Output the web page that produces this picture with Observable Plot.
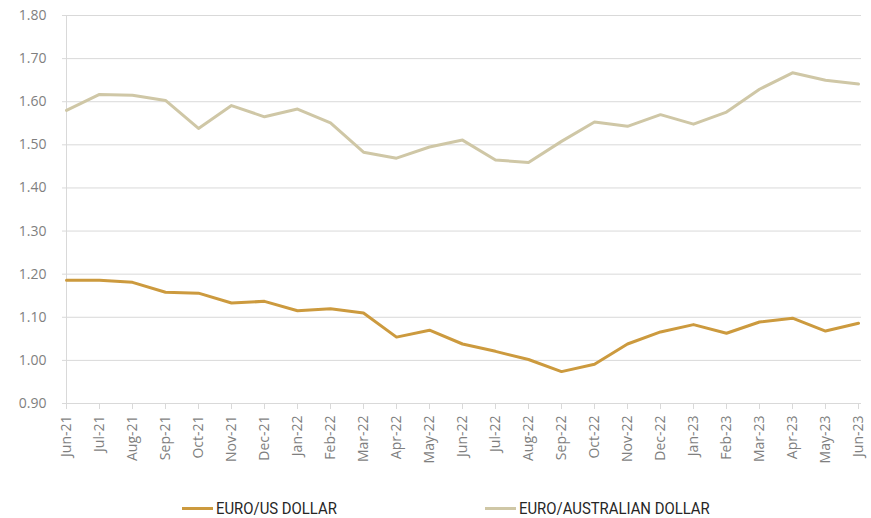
<!DOCTYPE html>
<html>
<head>
<meta charset="utf-8">
<script src="https://cdn.jsdelivr.net/npm/d3@7"></script>
<script src="https://cdn.jsdelivr.net/npm/@observablehq/plot@0.6"></script>
<style>
  body { margin: 0; background: #fff; font-family: "Open Sans", sans-serif; }
  #chart { width: 871px; height: 470px; }
  .legend { position: relative; height: 48px; width: 871px; font-size: 16px; color: #262626; font-family: Roboto, "Open Sans", sans-serif; }
  .item { position: absolute; top: 29px; display: flex; align-items: center; white-space: nowrap; }
  .sw { width: 31px; height: 3px; margin-right: 3px; flex: none; }
  .txt { display: inline-block; transform: scaleX(0.93); transform-origin: left center; }
</style>
</head>
<body>
<div id="chart"></div>
<script>
const months = ["Jun-21","Jul-21","Aug-21","Sep-21","Oct-21","Nov-21","Dec-21","Jan-22","Feb-22","Mar-22","Apr-22","May-22","Jun-22","Jul-22","Aug-22","Sep-22","Oct-22","Nov-22","Dec-22","Jan-23","Feb-23","Mar-23","Apr-23","May-23","Jun-23"];
const eurUsd = [1.186,1.186,1.181,1.158,1.156,1.133,1.137,1.115,1.120,1.110,1.054,1.070,1.038,1.021,1.002,0.974,0.991,1.038,1.066,1.083,1.063,1.089,1.098,1.068,1.086];
const eurAud = [1.580,1.617,1.615,1.603,1.538,1.591,1.565,1.583,1.551,1.483,1.469,1.495,1.511,1.465,1.459,1.508,1.553,1.543,1.570,1.548,1.576,1.629,1.667,1.650,1.641];
const yTicks = [0.9,1.0,1.1,1.2,1.3,1.4,1.5,1.6,1.7,1.8];
const seriesNames = ["EURO/US DOLLAR","EURO/AUSTRALIAN DOLLAR"];
const colors = ["#CC9A3E","#CFC7A6"];

const data = [];
months.forEach((m,i) => {
  data.push({month: m, value: eurUsd[i], series: seriesNames[0]});
  data.push({month: m, value: eurAud[i], series: seriesNames[1]});
});

const chart = Plot.plot({
  width: 871,
  height: 470,
  marginLeft: 62,
  marginRight: 10,
  marginTop: 15,
  marginBottom: 67,
  style: {fontFamily: "'Open Sans', sans-serif", fontSize: "14px", color: "#7f7f7f", background: "#fff"},
  x: {type: "point", domain: months, padding: 0, label: null},
  y: {domain: [0.9, 1.8], label: null},
  color: {domain: seriesNames, range: colors},
  marks: [
    Plot.gridY(yTicks, {stroke: "#d9d9d9", strokeOpacity: 1}),
    Plot.ruleX([months[0]], {stroke: "#d9d9d9"}),
    Plot.axisY(yTicks, {tickSize: 0, tickPadding: 16, tickFormat: d3.format(".2f"), fontSize: 14, fill: "#7f7f7f", label: null}),
    Plot.axisX({tickSize: 6, stroke: "#d9d9d9", tickRotate: -90, tickPadding: 6, fontSize: 14, fill: "#7f7f7f", label: null}),
    Plot.ruleY([0.9], {stroke: "#d9d9d9"}),
    Plot.line(data, {x: "month", y: "value", z: "series", stroke: "series", strokeWidth: 3})
  ]
});
document.getElementById("chart").appendChild(chart);

const legend = document.createElement("div");
legend.className = "legend";
const positions = [182, 485];
seriesNames.forEach((n,i) => {
  const it = document.createElement("div");
  it.className = "item";
  it.style.left = positions[i] + "px";
  const sw = document.createElement("div");
  sw.className = "sw";
  sw.style.background = colors[i];
  const t = document.createElement("span");
  t.className = "txt";
  t.textContent = n;
  it.appendChild(sw); it.appendChild(t);
  legend.appendChild(it);
});
document.body.appendChild(legend);
</script>
</body>
</html>
